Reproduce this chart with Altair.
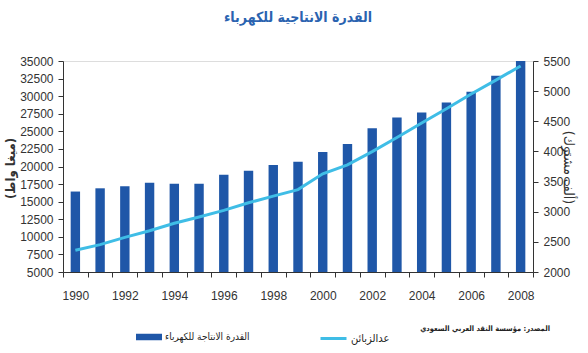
import altair as alt
import pandas as pd

years = list(range(1990, 2009))
capacity = [16440, 16900, 17190, 17700, 17560, 17560, 18830, 19390, 20230, 20660,
            22060, 23190, 25440, 26980, 27690, 29090, 30640, 32890, 35000]
customers = [2361, 2454, 2574, 2684, 2809, 2913, 3023, 3148, 3258, 3367,
             3630, 3777, 3996, 4231, 4472, 4707, 4953, 5183, 5418]
left_ticks = list(range(5000, 35001, 2500))
right_ticks = list(range(2000, 5501, 500))

title_text = "القدرة الانتاجية للكهرباء"
bar_label = "القدرة الانتاجة للكهرباء"
line_label = "عدالزبائن"
left_title = "(ميغا واط)"
right_title = "(ألف مشترك)"
source_text = "المصدر: مؤسسة النقد العربي السعودي"

bar_color = "#1f57a8"
line_color = "#3fbde6"
num_font = "'Liberation Sans Narrow', 'Liberation Sans', Arial, sans-serif"
ar_font = "'DejaVu Sans Condensed', 'DejaVu Sans', sans-serif"

df = pd.DataFrame({
    "year": years,
    "capacity": capacity,
    "customers": customers,
    "s1": [bar_label] * len(years),
    "s2": [line_label] * len(years),
})

x_enc = alt.X(
    "year:O",
    scale=alt.Scale(paddingInner=0, paddingOuter=0),
    axis=alt.Axis(
        title=None, labelAngle=0, tickBand="extent",
        labelExpr="datum.value % 2 == 0 ? datum.label : ''",
        tickSize=5, labelPadding=13, labelFont=num_font, labelFontSize=12,
        labelColor="#333333", domainColor="#333333", tickColor="#333333",
    ),
)

base = alt.Chart(df)

bars = base.mark_bar(width=alt.RelativeBandSize(0.38)).encode(
    x=x_enc,
    y=alt.Y(
        "capacity:Q",
        scale=alt.Scale(domain=[5000, 35000], zero=False, nice=False),
        axis=alt.Axis(
            values=left_ticks, format="d", title=left_title, titleAngle=-90,
            titleX=-53, titleY=107, titleAlign="center", titleBaseline="middle",
            titleFont=ar_font, titleFontSize=13, titleFontWeight="bold",
            titleColor="#333333",
            labelFont=num_font, labelFontSize=12, labelColor="#333333",
            tickSize=5, labelPadding=5, grid=False,
            domainColor="#333333", tickColor="#333333",
        ),
    ),
    y2=alt.datum(5000),
    color=alt.Color(
        "s1:N",
        scale=alt.Scale(domain=[bar_label], range=[bar_color]),
        legend=alt.Legend(
            orient="none", legendX=73, legendY=263, title=None,
            symbolType="M-1,-0.25H1V0.25H-1Z", symbolSize=676,
            symbolStrokeWidth=0, symbolOpacity=1,
            labelFont=ar_font, labelFontSize=10, labelColor="#222222",
            labelOffset=3, labelLimit=300,
        ),
    ),
)

line = base.mark_line(strokeWidth=3).encode(
    x=alt.X("year:O"),
    y=alt.Y(
        "customers:Q",
        scale=alt.Scale(domain=[2000, 5500], zero=False, nice=False),
        axis=alt.Axis(
            orient="right", values=right_ticks, format="d", title=right_title,
            titleAngle=90, titleX=34, titleY=106, titleAlign="center",
            titleBaseline="middle", titleFont=ar_font, titleFontSize=14,
            titleFontWeight="normal", titleColor="#333333",
            labelFont=num_font, labelFontSize=12, labelColor="#333333",
            tickSize=5, labelPadding=5, grid=False,
            domainColor="#333333", tickColor="#333333",
        ),
    ),
    stroke=alt.Stroke(
        "s2:N",
        scale=alt.Scale(domain=[line_label], range=[line_color]),
        legend=alt.Legend(
            orient="none", legendX=256, legendY=263, title=None,
            symbolType="stroke", symbolSize=676, symbolStrokeWidth=3,
            labelFont=ar_font, labelFontSize=11, labelColor="#222222",
            labelOffset=3, labelLimit=300,
        ),
    ),
)

src = alt.Chart(pd.DataFrame({"t": [source_text]})).mark_text(
    align="right", baseline="middle", font=ar_font, fontSize=7.5,
    fontWeight="bold", color="#222222",
).encode(x=alt.value(487), y=alt.value(268), text="t:N")

chart = alt.layer(bars, line, src).resolve_scale(
    y="independent"
).properties(
    width=470, height=211,
    autosize=alt.AutoSizeParams(type="none"),
    padding={"left": 63, "top": 61, "right": 55, "bottom": 81},
    title=alt.Title(
        title_text, font=ar_font, fontSize=14, fontWeight="bold",
        color="#2a63b0", anchor="middle", offset=30,
    ),
).configure_view(stroke=None).configure(background="white")

chart.save("out.html", embed_options={"renderer": "svg", "actions": False})
